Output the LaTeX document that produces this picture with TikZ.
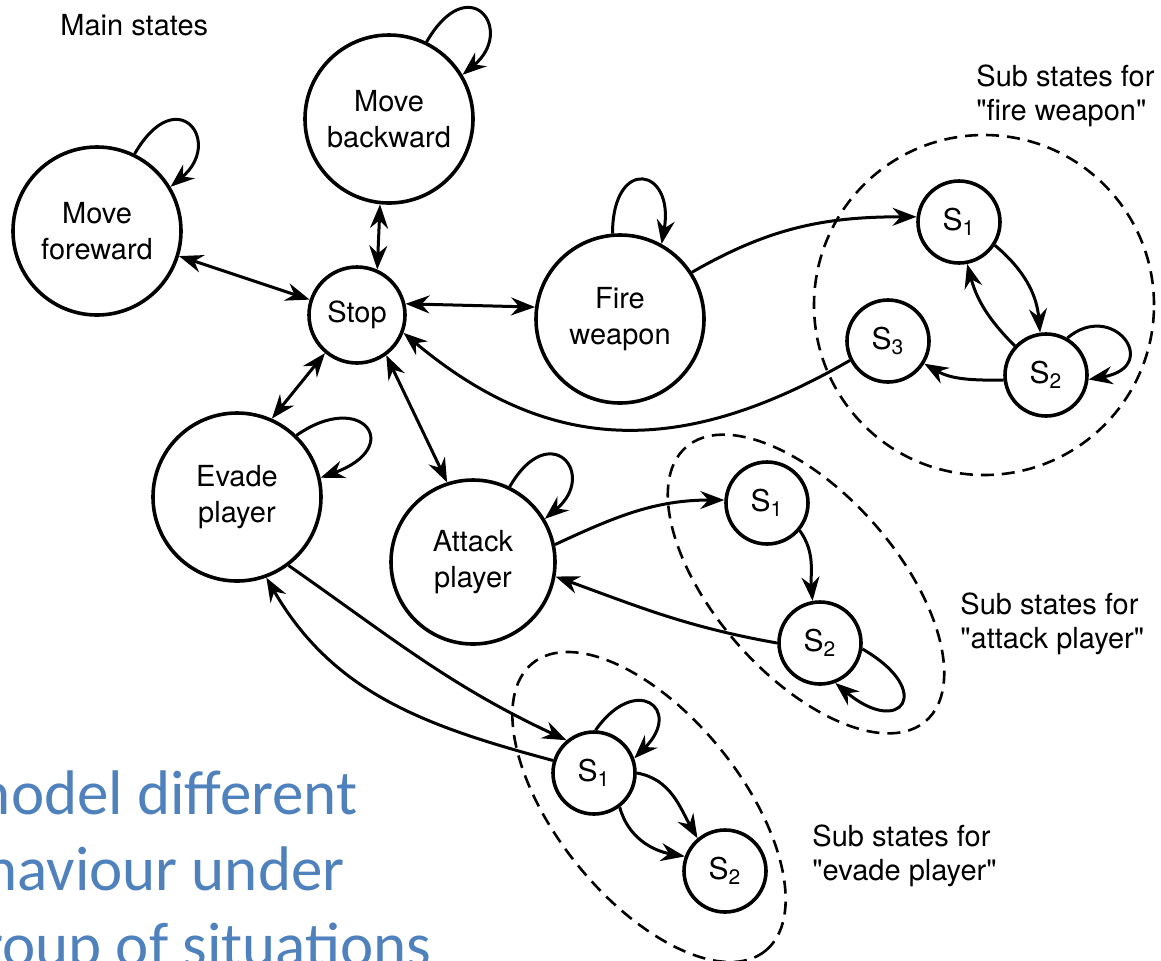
\documentclass[tikz,border=0pt]{standalone}
\usepackage{fontspec}
\setmainfont{TeX Gyre Heros}[Ligatures=TeXOff]
\newfontfamily\slidefont{Carlito}
\usetikzlibrary{arrows.meta}
\definecolor{slideblue}{HTML}{4F81BD}

\begin{document}
\begin{tikzpicture}[x=0.5pt, y=0.5pt,
  >={Stealth[length=12pt, width=9pt, inset=4pt]},
  bigstate/.style={circle, draw, fill=white, line width=1.8pt, minimum size=84pt, inner sep=0pt, align=center, font=\fontsize{14.5}{18}\selectfont},
  smallstate/.style={circle, draw, fill=white, line width=1.8pt, minimum size=41pt, inner sep=0pt, font=\fontsize{15}{18}\selectfont},
  link/.style={line width=1.5pt},
  group/.style={line width=1.3pt, dash pattern=on 6.5pt off 4pt},
  note/.style={anchor=north west, inner sep=0pt, align=left, font=\fontsize{14.5}{17}\selectfont},
  slide/.style={anchor=base east, inner sep=0pt, text=slideblue, font=\slidefont\fontsize{31.5}{38}\selectfont}]
\useasboundingbox (0,0) rectangle (1161,-960);
\clip (0,0) rectangle (1161,-960);

\draw [group] (984,-305) circle [radius=170];
\draw [group, rotate around={-48.7:(806,-584)}] (806,-584) ellipse [x radius=182, y radius=91];
\draw [group, rotate around={-51:(649,-807)}] (649,-807) ellipse [x radius=185, y radius=92];

\node [anchor=base west, inner sep=0pt, font=\fontsize{14.5}{17}\selectfont] (title) at (60,-35) {Main states};
\node [note] (firenote) at (976,-64) {Sub states for\\"fire weapon"};
\node [note] (attacknote) at (960,-592) {Sub states for\\"attack player"};
\node [note] (evadenote) at (812,-824) {Sub states for\\"evade player"};

\node [bigstate] (mf) at (97,-231) {Move\\foreward};
\node [bigstate] (mb) at (389,-119) {Move\\backward};
\node [bigstate, minimum size=48pt] (stop) at (357,-315) {Stop};
\node [bigstate] (fire) at (620,-319) {Fire\\weapon};
\node [bigstate] (evade) at (237,-497) {Evade\\player};
\node [bigstate, minimum size=82pt] (attack) at (473,-562) {Attack\\player};
\node [smallstate] (fs1) at (959,-222) {S\textsubscript{1}};
\node [smallstate] (fs2) at (1046,-375) {S\textsubscript{2}};
\node [smallstate] (fs3) at (888,-341) {S\textsubscript{3}};
\node [smallstate] (as1) at (767,-503) {S\textsubscript{1}};
\node [smallstate] (as2) at (820,-643) {S\textsubscript{2}};
\node [smallstate] (es1) at (594,-773) {S\textsubscript{1}};
\node [smallstate] (es2) at (725,-871) {S\textsubscript{2}};

\draw [link, <->] (mf.-17) -- (stop.162);
\draw [link, <->] (mb.-96) -- (stop.66);
\draw [link, <->] (stop.13) -- (fire.172);
\draw [link, <->] (stop.230) -- (evade.66);
\draw [link, <->] (stop.-54) -- (attack.108);

\draw [link, ->] (mf.64) .. controls +(60:85) and +(40:70) .. (mf.31);
\draw [link, ->] (mb.64) .. controls +(60:85) and +(40:70) .. (mb.31);
\draw [link, ->] (attack.64) .. controls +(60:80) and +(40:70) .. (attack.31);
\draw [link, ->] (evade.46) .. controls +(35:80) and +(20:90) .. (evade.13);
\draw [link, ->] (fire.95) .. controls +(90:78) and +(80:78) .. (fire.61);
\draw [link, ->] (fs2.60) .. controls +(40:60) and +(10:75) .. (fs2.-6);
\draw [link, ->] (as2.-8) .. controls +(-30:85) and +(-40:85) .. (as2.-69);
\draw [link, ->] (es1.88) .. controls +(55:70) and +(45:70) .. (es1.20);

\draw [link, ->] (fire.33) to [out=30, in=180] (fs1.173);
\draw [link, ->] (fs3.207) to [out=210, in=-40, looseness=1.1] (stop.-21);
\draw [link, ->] (fs1.-33) to [out=-40, in=95] (fs2.98);
\draw [link, ->] (fs2.137) to [out=135, in=-75] (fs1.-79);
\draw [link, ->] (fs2.187) to [out=180, in=-30] (fs3.-32);
\draw [link, ->] (attack.12) to [out=25, in=180] (as1.176);
\draw [link, ->] (as2.180) to [out=170, in=-20] (attack.-10);
\draw [link, ->] (as1.-40) to [out=-55, in=95] (as2.100);
\draw [link, ->] (evade.-53) to [out=-35, in=155] (es1.130);
\draw [link, ->] (es1.163) to [out=165, in=-60] (evade.-70);
\draw [link, ->] (es1.0) to [out=-10, in=120] (es2.130);
\draw [link, ->] (es1.-53) to [out=-75, in=170] (es2.160);

\node [slide] (line1) at (358,-814) {model different};
\node [slide] (line2) at (345,-890) {behaviour under};
\node [slide] (line3) at (432,-966) {group of situations};
\end{tikzpicture}
\end{document}
